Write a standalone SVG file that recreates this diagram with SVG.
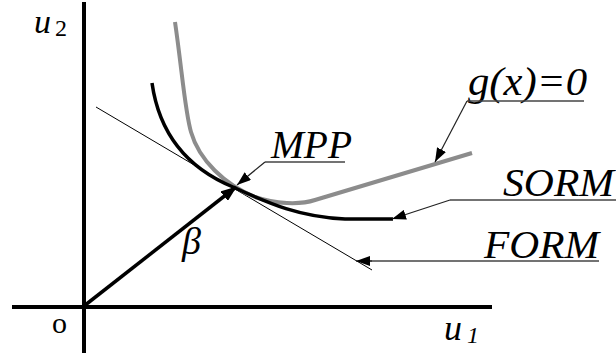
<svg xmlns="http://www.w3.org/2000/svg" width="616" height="358" viewBox="0 0 616 358">
<style>
.lbl{font-style:italic;fill:#000}
.ax{stroke:#000;stroke-width:4;fill:none}
.lead{stroke:#222;stroke-width:1.2;fill:none}
.ul{stroke:#444;stroke-width:1.6;fill:none}
</style>
<defs>
<marker id="ah" viewBox="0 0 14 10" refX="14" refY="5" markerWidth="14" markerHeight="10" markerUnits="userSpaceOnUse" orient="auto">
<path d="M0,0 L14,5 L0,10 Z" fill="#000"/>
</marker>
<marker id="ahb" viewBox="0 0 16 12" refX="15" refY="6" markerWidth="16" markerHeight="12" markerUnits="userSpaceOnUse" orient="auto">
<path d="M0,0 L16,6 L0,12 Z" fill="#000"/>
</marker>
</defs>
<rect width="616" height="358" fill="#fff"/>
<g id="axes" font-family="Liberation Serif, Times New Roman, serif">
<line class="ax" x1="84" y1="2" x2="84" y2="353"/>
<line class="ax" x1="12" y1="307" x2="492" y2="307"/>
<text x="34" y="33" class="lbl" font-size="34">u</text>
<text x="55" y="36" font-size="24">2</text>
<text x="444" y="340" class="lbl" font-size="36">u</text>
<text x="467" y="343" class="lbl" font-size="24">1</text>
<text x="52" y="333" font-size="30">o</text>
</g>
<g id="form">
<line x1="96" y1="107" x2="372" y2="270" stroke="#000" stroke-width="1"/>
</g>
<g id="gx">
<path d="M175,22 C182,70 185,112 191,132 C199,160 225,185 255,197 C275,204 300,205 315,200 L472,153" fill="none" stroke="#8c8c8c" stroke-width="4"/>
</g>
<g id="sorm">
<path d="M152,83 C158,125 180,165 233,187 C270,204 300,217 345,219 L393,219" fill="none" stroke="#000" stroke-width="3.5"/>
</g>
<g id="beta" font-family="Liberation Serif, Times New Roman, serif">
<line x1="84" y1="306" x2="236" y2="187" stroke="#000" stroke-width="3.5" marker-end="url(#ahb)"/>
<text x="182" y="254" class="lbl" font-size="38">β</text>
</g>
<g id="label-mpp" font-family="Liberation Serif, Times New Roman, serif" font-size="40">
<text x="271" y="158" class="lbl" textLength="81" lengthAdjust="spacingAndGlyphs">MPP</text>
<line class="ul" x1="265" y1="162" x2="345" y2="162"/>
</g>
<g id="label-gx" font-family="Liberation Serif, Times New Roman, serif" font-size="40">
<text x="468" y="95" class="lbl" textLength="119" lengthAdjust="spacingAndGlyphs">g(x)=0</text>
<line class="ul" x1="467" y1="101" x2="584" y2="101"/>
</g>
<g id="label-sorm" font-family="Liberation Serif, Times New Roman, serif" font-size="40">
<text x="503" y="196" class="lbl" textLength="111" lengthAdjust="spacingAndGlyphs">SORM</text>
<line class="ul" x1="450" y1="200" x2="616" y2="200"/>
</g>
<g id="label-form" font-family="Liberation Serif, Times New Roman, serif" font-size="40">
<text x="484" y="258" class="lbl" textLength="115" lengthAdjust="spacingAndGlyphs">FORM</text>
<line class="ul" x1="370" y1="261" x2="599" y2="261"/>
</g>
<g id="connectors">
<line class="lead" x1="265" y1="162" x2="237" y2="185" marker-end="url(#ah)"/>
<line class="lead" x1="467" y1="101" x2="435" y2="162" marker-end="url(#ah)"/>
<line class="lead" x1="450" y1="200" x2="392" y2="219" marker-end="url(#ah)"/>
<line class="lead" x1="372" y1="261" x2="356" y2="261" marker-end="url(#ah)"/>
</g>
</svg>
